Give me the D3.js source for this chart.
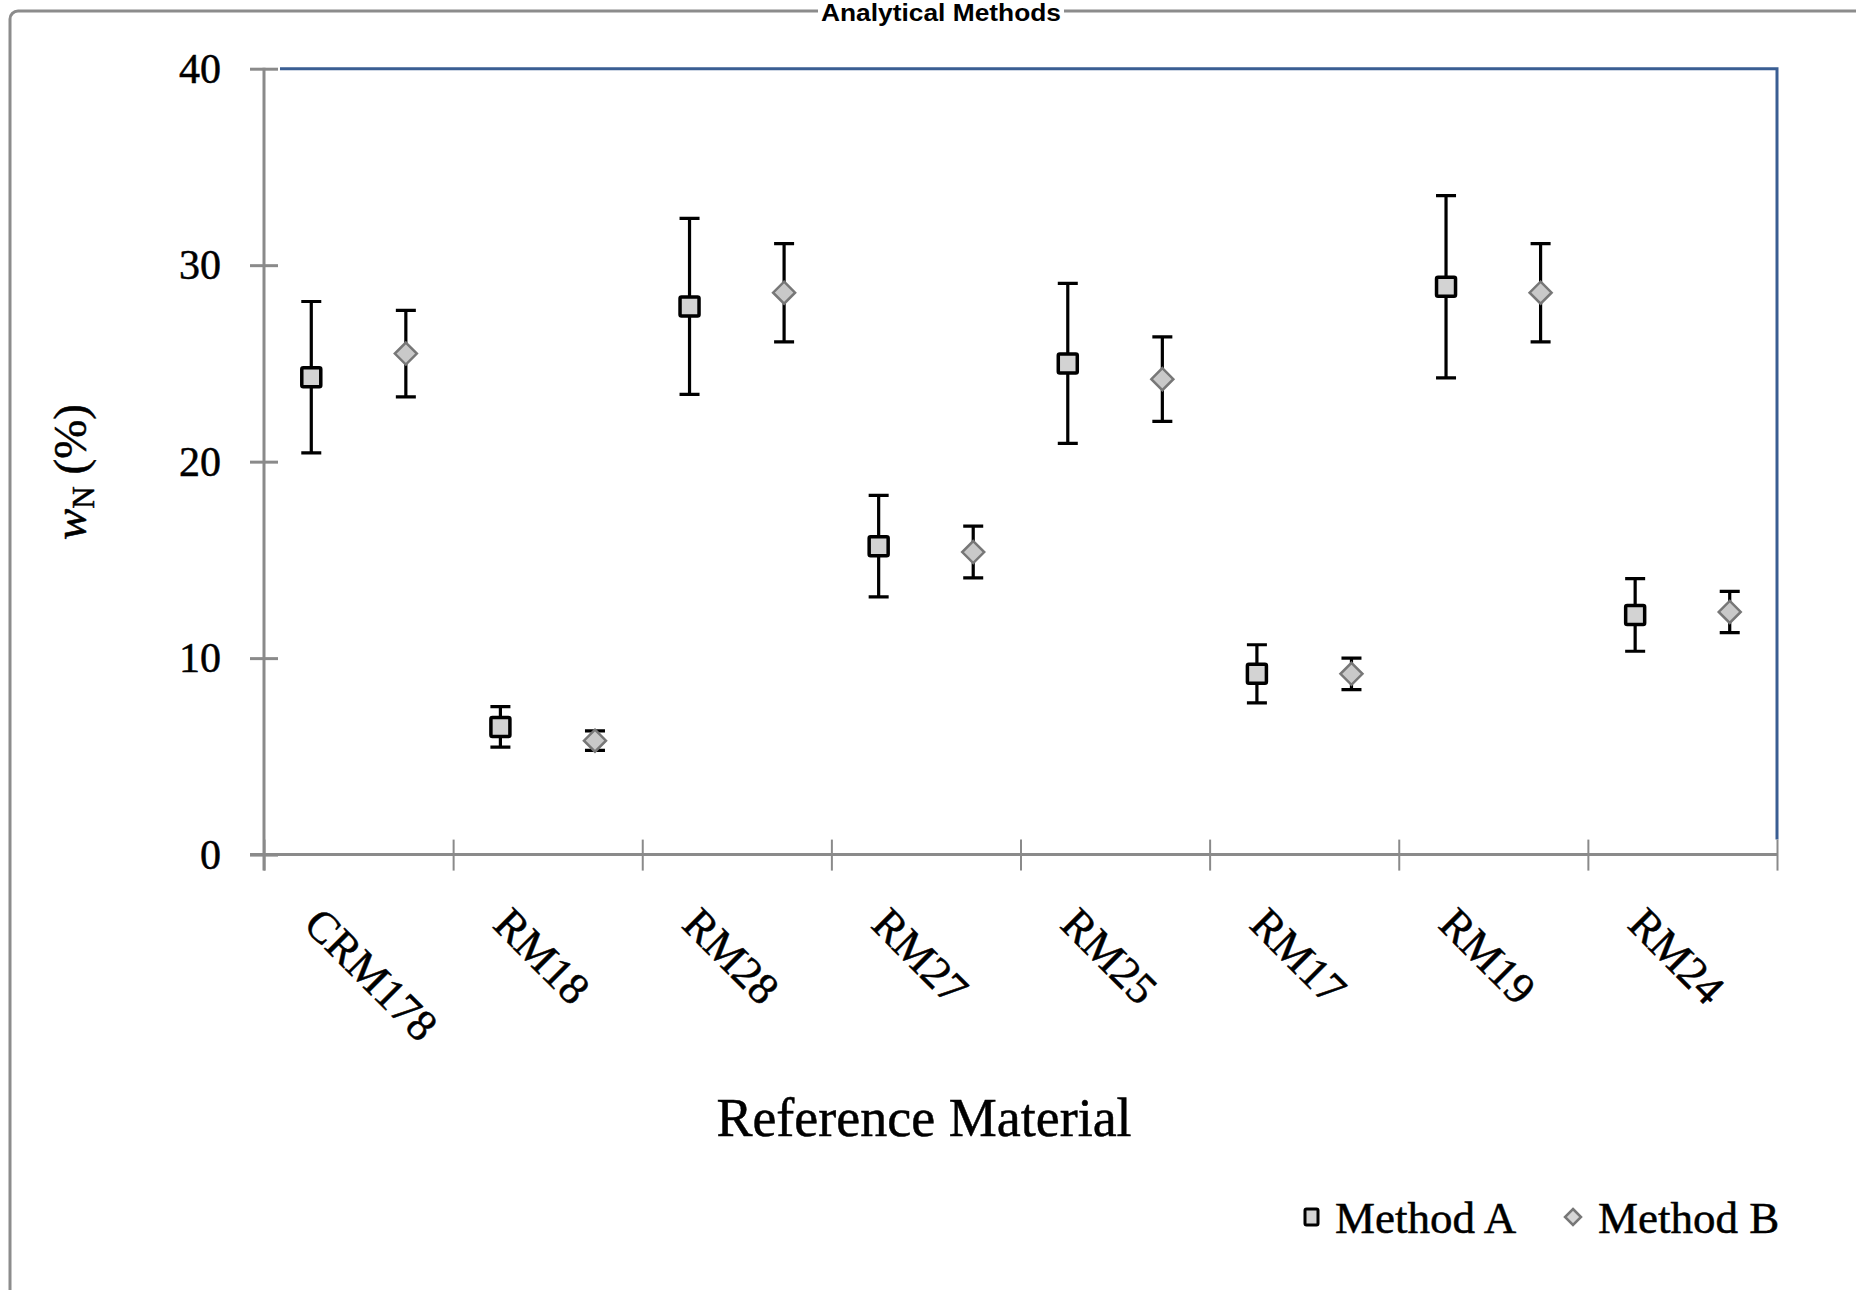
<!DOCTYPE html>
<html>
<head>
<meta charset="utf-8">
<script src="https://cdn.jsdelivr.net/npm/d3@7"></script>
<style>
  html, body { margin: 0; padding: 0; background: #ffffff; }
  svg { display: block; }
  .serifText { stroke: #000; stroke-width: 0.5px; }
</style>
</head>
<body>
<script>
// ---- data ----
const categories = ["CRM178", "RM18", "RM28", "RM27", "RM25", "RM17", "RM19", "RM24"];
const methodA    = [24.3, 6.5, 27.9, 15.7, 25.0, 9.2, 28.9, 12.2];
const methodAErr = [3.85, 1.03, 4.48, 2.58, 4.07, 1.48, 4.64, 1.85];
const methodB    = [25.5, 5.8, 28.6, 15.4, 24.2, 9.2, 28.6, 12.35];
const methodBErr = [2.2, 0.5, 2.5, 1.32, 2.15, 0.8, 2.5, 1.05];
const yTicks = [0, 10, 20, 30, 40];
const seriesNames = ["Method A", "Method B"];
const chartTitle = "Analytical Methods";
const xTitle = "Reference Material";

// ---- layout ----
const W = 1856, H = 1290;
const pLeft = 264, pRight = 1777, pTop = 68.7, pBottom = 854.6;
const serif = "'Liberation Serif', 'Times New Roman', serif";

const svg = d3.select("body").append("svg").attr("width", W).attr("height", H);

// outer frame
svg.append("rect").attr("x", 10).attr("y", 11).attr("width", 1900).attr("height", 1400)
  .attr("rx", 8).attr("fill", "#fff").attr("stroke", "#8c8c8c").attr("stroke-width", 3);

// title
const tg = svg.append("g");
tg.append("rect").attr("x", 818).attr("y", 0).attr("width", 246).attr("height", 24).attr("fill", "#fff");
tg.append("text").attr("x", 941).attr("y", 21).attr("text-anchor", "middle")
  .attr("font-family", "'Liberation Sans', Arial, sans-serif").attr("font-weight", "bold")
  .attr("font-size", 23).attr("textLength", 240).attr("lengthAdjust", "spacingAndGlyphs")
  .text(chartTitle);

// scales
const x = d3.scaleBand().domain(categories).range([pLeft, pRight]).padding(0);
const xEdge = d3.scaleLinear().domain([0, categories.length]).range([pLeft, pRight]);
const y = d3.scaleLinear().domain([0, 40]).range([pBottom, pTop]);
const bw = x.bandwidth();

// plot-area border (top & right, blue)
svg.append("path")
  .attr("d", `M${pLeft + 16},${y(40)} H${pRight} V${y(0) - 15}`)
  .attr("fill", "none").attr("stroke", "#3A5E93").attr("stroke-width", 3);

// y axis
const yAxis = svg.append("g").attr("transform", `translate(${pLeft},0)`)
  .call(d3.axisLeft(y).tickValues(yTicks).tickSize(14).tickPadding(29));
yAxis.select(".domain").remove();
yAxis.selectAll(".tick line").attr("x1", 14).attr("stroke", "#8a8a8a").attr("stroke-width", 3);
yAxis.selectAll(".tick text").attr("class", "serifText").attr("font-family", serif).attr("font-size", 42).attr("fill", "#000");
svg.append("line").attr("x1", pLeft).attr("x2", pLeft).attr("y1", y(40) - 1).attr("y2", y(0) + 16)
  .attr("stroke", "#8a8a8a").attr("stroke-width", 3);

// x axis
const xAxis = svg.append("g").attr("transform", `translate(0,${pBottom})`)
  .call(d3.axisBottom(xEdge).tickValues(d3.range(categories.length + 1)).tickSize(16).tickFormat(""));
xAxis.select(".domain").remove();
xAxis.selectAll(".tick line").attr("y1", -15).attr("stroke", "#8a8a8a").attr("stroke-width", 2);
svg.append("line").attr("x1", pLeft - 14).attr("x2", pRight).attr("y1", pBottom).attr("y2", pBottom)
  .attr("stroke", "#8a8a8a").attr("stroke-width", 3);

// category labels (rotated 45°)
svg.append("g").selectAll("text").data(categories).join("text")
  .attr("class", "serifText")
  .attr("transform", d => `translate(${x(d) + 38},${pBottom + 72}) rotate(45)`)
  .attr("font-family", serif).attr("font-size", 44.5).attr("fill", "#000")
  .text(d => d);

// x title
svg.append("text").attr("class", "serifText").attr("x", 924).attr("y", 1136).attr("text-anchor", "middle")
  .attr("font-family", serif).attr("font-size", 54).attr("fill", "#000").text(xTitle);

// y title: w_N (%)
const yt = svg.append("text").attr("class", "serifText")
  .attr("transform", `translate(86,472) rotate(-90)`)
  .attr("text-anchor", "middle")
  .attr("font-family", serif).attr("font-size", 47).attr("fill", "#000");
yt.append("tspan").attr("font-style", "italic").text("w");
yt.append("tspan").attr("font-size", 31).attr("dy", 8).text("N");
yt.append("tspan").attr("dy", -8).text(" (%)");

// data
const series = [
  { name: seriesNames[0], vals: methodA, errs: methodAErr, off: 0.25, shape: "square" },
  { name: seriesNames[1], vals: methodB, errs: methodBErr, off: 0.75, shape: "diamond" }
];

const gData = svg.append("g");
series.forEach(s => {
  const g = gData.append("g");
  const pts = categories.map((c, i) => ({ cx: x(c) + bw * s.off, v: s.vals[i], e: s.errs[i] }));
  g.selectAll(".eb").data(pts).join("path")
    .attr("d", d => `M${d.cx},${y(d.v + d.e)} V${y(d.v - d.e)} M${d.cx - 10},${y(d.v + d.e)} H${d.cx + 10} M${d.cx - 10},${y(d.v - d.e)} H${d.cx + 10}`)
    .attr("fill", "none").attr("stroke", "#000").attr("stroke-width", 3.2);
  if (s.shape === "square") {
    g.selectAll(".m").data(pts).join("rect")
      .attr("x", d => d.cx - 9.5).attr("y", d => y(d.v) - 9.5).attr("width", 19).attr("height", 19)
      .attr("rx", 1.5)
      .attr("fill", "#d3d3d3").attr("stroke", "#000").attr("stroke-width", 3.5);
  } else {
    g.selectAll(".m").data(pts).join("path")
      .attr("d", d => `M${d.cx},${y(d.v) - 11} L${d.cx + 11},${y(d.v)} L${d.cx},${y(d.v) + 11} L${d.cx - 11},${y(d.v)} Z`)
      .attr("fill", "#c9c9c9").attr("stroke", "#777").attr("stroke-width", 2.5);
  }
});

// legend
const lg = svg.append("g");
lg.append("rect").attr("x", 1305).attr("y", 1209).attr("width", 13).attr("height", 16).attr("rx", 1.5)
  .attr("fill", "#d3d3d3").attr("stroke", "#000").attr("stroke-width", 3);
lg.append("text").attr("class", "serifText").attr("x", 1335).attr("y", 1233).attr("font-family", serif).attr("font-size", 45)
  .attr("fill", "#000").text(seriesNames[0]);
lg.append("path").attr("d", "M1573,1209 L1581,1217 L1573,1225 L1565,1217 Z")
  .attr("fill", "#d6d6d6").attr("stroke", "#777").attr("stroke-width", 2.5);
lg.append("text").attr("class", "serifText").attr("x", 1598).attr("y", 1233).attr("font-family", serif).attr("font-size", 45)
  .attr("fill", "#000").text(seriesNames[1]);
</script>
</body>
</html>
